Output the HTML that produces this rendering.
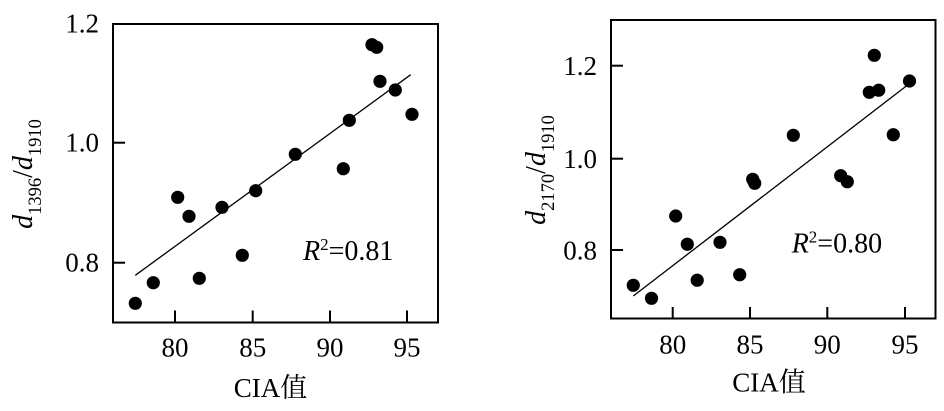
<!DOCTYPE html>
<html>
<head>
<meta charset="utf-8">
<style>
html,body{margin:0;padding:0;background:#fff;}
svg{display:block;}
text{font-family:"Liberation Serif","Noto Serif CJK SC",serif;fill:#000;}
</style>
</head>
<body>
<svg width="944" height="411" viewBox="0 0 944 411" xmlns="http://www.w3.org/2000/svg">
<rect width="944" height="411" fill="#fff"/>

<!-- LEFT CHART -->
<g>
  <rect x="113" y="24" width="325" height="298.5" fill="none" stroke="#000" stroke-width="2"/>
  <line x1="113" y1="142.7" x2="125" y2="142.7" stroke="#000" stroke-width="2"/>
  <line x1="113" y1="262.7" x2="125" y2="262.7" stroke="#000" stroke-width="2"/>
  <line x1="175" y1="322.5" x2="175" y2="310.5" stroke="#000" stroke-width="2"/>
  <line x1="252.7" y1="322.5" x2="252.7" y2="310.5" stroke="#000" stroke-width="2"/>
  <line x1="330" y1="322.5" x2="330" y2="310.5" stroke="#000" stroke-width="2"/>
  <line x1="407" y1="322.5" x2="407" y2="310.5" stroke="#000" stroke-width="2"/>
  <g font-size="27" text-anchor="end">
    <text x="99" y="32.5">1.2</text>
    <text x="99" y="151.5">1.0</text>
    <text x="99" y="271.3">0.8</text>
  </g>
  <g font-size="27" text-anchor="middle">
    <text x="175" y="356.7">80</text>
    <text x="252.7" y="356.7">85</text>
    <text x="330" y="356.7">90</text>
    <text x="407" y="356.7">95</text>
  </g>
  <text x="270.5" y="397" font-size="27" text-anchor="middle">CIA值</text>
  <text transform="translate(32,174) rotate(-90)" font-size="28" text-anchor="middle"><tspan font-style="italic">d</tspan><tspan font-size="18.5" dy="9">1396</tspan><tspan dy="-9">/</tspan><tspan font-style="italic">d</tspan><tspan font-size="18.5" dy="9">1910</tspan></text>
  <line x1="135.3" y1="275.3" x2="410.7" y2="74.7" stroke="#000" stroke-width="1.3"/>
  <g fill="#000">
    <circle cx="135.3" cy="303.3" r="6.6"/>
    <circle cx="153.3" cy="282.7" r="6.6"/>
    <circle cx="177.7" cy="197.3" r="6.6"/>
    <circle cx="189" cy="216.3" r="6.6"/>
    <circle cx="199.3" cy="278.3" r="6.6"/>
    <circle cx="222" cy="207.3" r="6.6"/>
    <circle cx="242.3" cy="255.3" r="6.6"/>
    <circle cx="255.7" cy="190.7" r="6.6"/>
    <circle cx="295.3" cy="154.3" r="6.6"/>
    <circle cx="343.3" cy="168.7" r="6.6"/>
    <circle cx="349.3" cy="120.3" r="6.6"/>
    <circle cx="372" cy="44.7" r="6.6"/>
    <circle cx="376.7" cy="47.3" r="6.6"/>
    <circle cx="380" cy="81.3" r="6.6"/>
    <circle cx="395.3" cy="90" r="6.6"/>
    <circle cx="412" cy="114.3" r="6.6"/>
  </g>
  <text x="303" y="260" font-size="28"><tspan font-style="italic">R</tspan><tspan font-size="17" dy="-10">2</tspan><tspan dy="10">=0.81</tspan></text>
</g>

<!-- RIGHT CHART -->
<g>
  <rect x="611" y="20" width="324.5" height="298.5" fill="none" stroke="#000" stroke-width="2"/>
  <line x1="611" y1="65.7" x2="623" y2="65.7" stroke="#000" stroke-width="2"/>
  <line x1="611" y1="158.7" x2="623" y2="158.7" stroke="#000" stroke-width="2"/>
  <line x1="611" y1="250" x2="623" y2="250" stroke="#000" stroke-width="2"/>
  <line x1="672.7" y1="318.5" x2="672.7" y2="307" stroke="#000" stroke-width="2"/>
  <line x1="750" y1="318.5" x2="750" y2="307" stroke="#000" stroke-width="2"/>
  <line x1="827.3" y1="318.5" x2="827.3" y2="307" stroke="#000" stroke-width="2"/>
  <line x1="905" y1="318.5" x2="905" y2="307" stroke="#000" stroke-width="2"/>
  <g font-size="27" text-anchor="end">
    <text x="597" y="75">1.2</text>
    <text x="597" y="168">1.0</text>
    <text x="597" y="259.3">0.8</text>
  </g>
  <g font-size="27" text-anchor="middle">
    <text x="672.7" y="353.3">80</text>
    <text x="750" y="353.3">85</text>
    <text x="827.3" y="353.3">90</text>
    <text x="905" y="353.3">95</text>
  </g>
  <text x="769" y="391.7" font-size="27" text-anchor="middle">CIA值</text>
  <text transform="translate(545,170) rotate(-90)" font-size="28" text-anchor="middle"><tspan font-style="italic">d</tspan><tspan font-size="18.5" dy="9">2170</tspan><tspan dy="-9">/</tspan><tspan font-style="italic">d</tspan><tspan font-size="18.5" dy="9">1910</tspan></text>
  <line x1="633.3" y1="296" x2="907" y2="85.5" stroke="#000" stroke-width="1.3"/>
  <g fill="#000">
    <circle cx="633.3" cy="285.3" r="6.6"/>
    <circle cx="651.5" cy="298.3" r="6.6"/>
    <circle cx="675.7" cy="216" r="6.6"/>
    <circle cx="687.3" cy="244.2" r="6.6"/>
    <circle cx="697.2" cy="280.2" r="6.6"/>
    <circle cx="720" cy="242.3" r="6.6"/>
    <circle cx="739.7" cy="274.7" r="6.6"/>
    <circle cx="752.7" cy="179.3" r="6.6"/>
    <circle cx="754.7" cy="183.3" r="6.6"/>
    <circle cx="793.3" cy="135.3" r="6.6"/>
    <circle cx="840.7" cy="175.7" r="6.6"/>
    <circle cx="847.3" cy="181.7" r="6.6"/>
    <circle cx="874.3" cy="55.3" r="6.6"/>
    <circle cx="869.3" cy="92.3" r="6.6"/>
    <circle cx="878.7" cy="90.2" r="6.6"/>
    <circle cx="893.3" cy="134.7" r="6.6"/>
    <circle cx="909.5" cy="81" r="6.6"/>
  </g>
  <text x="791.7" y="252.3" font-size="28"><tspan font-style="italic">R</tspan><tspan font-size="17" dy="-10">2</tspan><tspan dy="10">=0.80</tspan></text>
</g>
</svg>
</body>
</html>
